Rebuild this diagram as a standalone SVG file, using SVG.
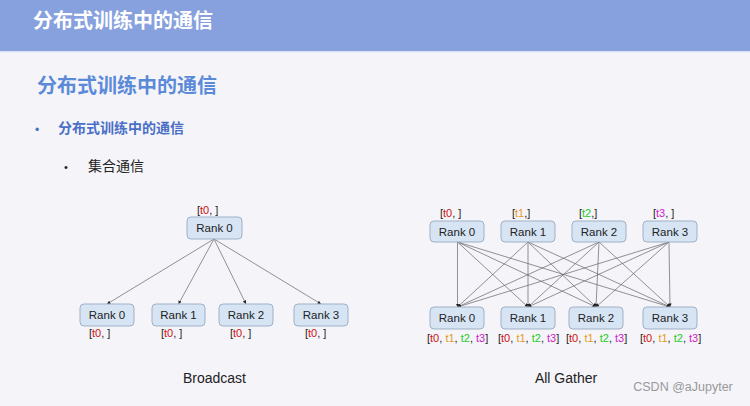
<svg xmlns="http://www.w3.org/2000/svg" width="750" height="406" viewBox="0 0 750 406">
<defs>
<style>
.cjk{font-family:"Noto Sans CJK SC","Noto Sans",sans-serif}
.lat{font-family:"Liberation Sans",Arial,sans-serif}
.box{fill:#d6e4f4;stroke:#9fb1c6;stroke-width:1}
.rk{font-family:"Liberation Sans",Arial,sans-serif;font-size:11.5px;fill:#222;text-anchor:middle}
.lb{font-family:"Liberation Sans",Arial,sans-serif;font-size:11px;fill:#222}
.c0{fill:#d01010}.c1{fill:#e69a1a}.c2{fill:#22cc22}.c3{fill:#cc22cc}
.ln{stroke:#666;stroke-width:0.7;fill:none;marker-end:url(#ah)}
</style>
<marker id="ah" viewBox="0 0 6 6" refX="6" refY="3" markerWidth="3.5" markerHeight="3.5" orient="auto" markerUnits="userSpaceOnUse">
<path d="M0,0 L6,3 L0,6 z" fill="#222"/>
</marker>
</defs>
<rect width="750" height="406" fill="#f5f4f9"/>
<rect width="750" height="51" fill="#87a1de"/>
<rect y="51" width="750" height="1.5" fill="#dde3f3"/>
<text x="33" y="28" class="cjk" font-size="20" font-weight="bold" fill="#ffffff">分布式训练中的通信</text>
<text x="37" y="93" class="cjk" font-size="20" font-weight="bold" fill="#5a8ad8">分布式训练中的通信</text>
<text x="35" y="134" class="lat" font-size="12" fill="#4a6fc6">•</text>
<text x="58" y="133" class="cjk" font-size="14" font-weight="bold" fill="#4a6fc6">分布式训练中的通信</text>
<text x="64" y="171" class="lat" font-size="11" fill="#222">•</text>
<text x="88" y="171" class="cjk" font-size="14" fill="#222">集合通信</text>

<g id="connectors">
<line class="ln" x1="214" y1="239" x2="107" y2="304"/>
<line class="ln" x1="214" y1="239" x2="178.5" y2="304"/>
<line class="ln" x1="214" y1="239" x2="246" y2="304"/>
<line class="ln" x1="214" y1="239" x2="321" y2="304"/>
<line class="ln" x1="457.5" y1="242" x2="457.5" y2="307"/>
<line class="ln" x1="457.5" y1="242" x2="528" y2="307"/>
<line class="ln" x1="457.5" y1="242" x2="596" y2="307"/>
<line class="ln" x1="457.5" y1="242" x2="670" y2="307"/>
<line class="ln" x1="528" y1="242" x2="457.5" y2="307"/>
<line class="ln" x1="528" y1="242" x2="528" y2="307"/>
<line class="ln" x1="528" y1="242" x2="596" y2="307"/>
<line class="ln" x1="528" y1="242" x2="670" y2="307"/>
<line class="ln" x1="599" y1="242" x2="457.5" y2="307"/>
<line class="ln" x1="599" y1="242" x2="528" y2="307"/>
<line class="ln" x1="599" y1="242" x2="596" y2="307"/>
<line class="ln" x1="599" y1="242" x2="670" y2="307"/>
<line class="ln" x1="669" y1="242" x2="457.5" y2="307"/>
<line class="ln" x1="669" y1="242" x2="528" y2="307"/>
<line class="ln" x1="669" y1="242" x2="596" y2="307"/>
<line class="ln" x1="669" y1="242" x2="670" y2="307"/>
</g>

<g id="bc-src">
<rect class="box" x="187" y="217" width="55" height="22" rx="4"/>
<text class="rk" x="214.5" y="232">Rank 0</text>
<text class="lb" x="197" y="214">[<tspan class="c0">t0</tspan>, ]</text>
</g>
<g id="bc-r0">
<rect class="box" x="80" y="304" width="54" height="22" rx="4"/>
<text class="rk" x="107" y="319">Rank 0</text>
<text class="lb" x="89" y="337">[<tspan class="c0">t0</tspan>, ]</text>
</g>
<g id="bc-r1">
<rect class="box" x="152" y="304" width="53" height="22" rx="4"/>
<text class="rk" x="178.5" y="319">Rank 1</text>
<text class="lb" x="161" y="337">[<tspan class="c0">t0</tspan>, ]</text>
</g>
<g id="bc-r2">
<rect class="box" x="219" y="304" width="54" height="22" rx="4"/>
<text class="rk" x="246" y="319">Rank 2</text>
<text class="lb" x="230" y="337">[<tspan class="c0">t0</tspan>, ]</text>
</g>
<g id="bc-r3">
<rect class="box" x="294" y="304" width="54" height="22" rx="4"/>
<text class="rk" x="321" y="319">Rank 3</text>
<text class="lb" x="305" y="337">[<tspan class="c0">t0</tspan>, ]</text>
</g>

<g id="ag-t0">
<rect class="box" x="430" y="221" width="54" height="21" rx="4"/>
<text class="rk" x="457" y="235.5">Rank 0</text>
<text class="lb" x="440" y="217">[<tspan class="c0">t0</tspan>, ]</text>
</g>
<g id="ag-t1">
<rect class="box" x="501" y="221" width="54" height="21" rx="4"/>
<text class="rk" x="528" y="235.5">Rank 1</text>
<text class="lb" x="512" y="217">[<tspan class="c1">t1</tspan>,]</text>
</g>
<g id="ag-t2">
<rect class="box" x="572" y="221" width="54" height="21" rx="4"/>
<text class="rk" x="599" y="235.5">Rank 2</text>
<text class="lb" x="579" y="217">[<tspan class="c2">t2</tspan>,]</text>
</g>
<g id="ag-t3">
<rect class="box" x="643" y="221" width="54" height="21" rx="4"/>
<text class="rk" x="670" y="235.5">Rank 3</text>
<text class="lb" x="653" y="217">[<tspan class="c3">t3</tspan>, ]</text>
</g>

<g id="ag-b0">
<rect class="box" x="430" y="307" width="54" height="22" rx="4"/>
<text class="rk" x="457" y="322">Rank 0</text>
<text class="lb" x="427" y="342">[<tspan class="c0">t0</tspan>, <tspan class="c1">t1</tspan>, <tspan class="c2">t2</tspan>, <tspan class="c3">t3</tspan>]</text>
</g>
<g id="ag-b1">
<rect class="box" x="501" y="307" width="54" height="22" rx="4"/>
<text class="rk" x="528" y="322">Rank 1</text>
<text class="lb" x="498" y="342">[<tspan class="c0">t0</tspan>, <tspan class="c1">t1</tspan>, <tspan class="c2">t2</tspan>, <tspan class="c3">t3</tspan>]</text>
</g>
<g id="ag-b2">
<rect class="box" x="569" y="307" width="54" height="22" rx="4"/>
<text class="rk" x="596" y="322">Rank 2</text>
<text class="lb" x="566" y="342">[<tspan class="c0">t0</tspan>, <tspan class="c1">t1</tspan>, <tspan class="c2">t2</tspan>, <tspan class="c3">t3</tspan>]</text>
</g>
<g id="ag-b3">
<rect class="box" x="643" y="307" width="54" height="22" rx="4"/>
<text class="rk" x="670" y="322">Rank 3</text>
<text class="lb" x="640" y="342">[<tspan class="c0">t0</tspan>, <tspan class="c1">t1</tspan>, <tspan class="c2">t2</tspan>, <tspan class="c3">t3</tspan>]</text>
</g>

<text x="214.5" y="383" class="lat" font-size="14" fill="#222" text-anchor="middle">Broadcast</text>
<text x="566" y="383" class="lat" font-size="14" fill="#222" text-anchor="middle">All Gather</text>
<text x="683" y="391" class="lat" font-size="12.5" fill="#999" text-anchor="middle">CSDN @aJupyter</text>
</svg>
